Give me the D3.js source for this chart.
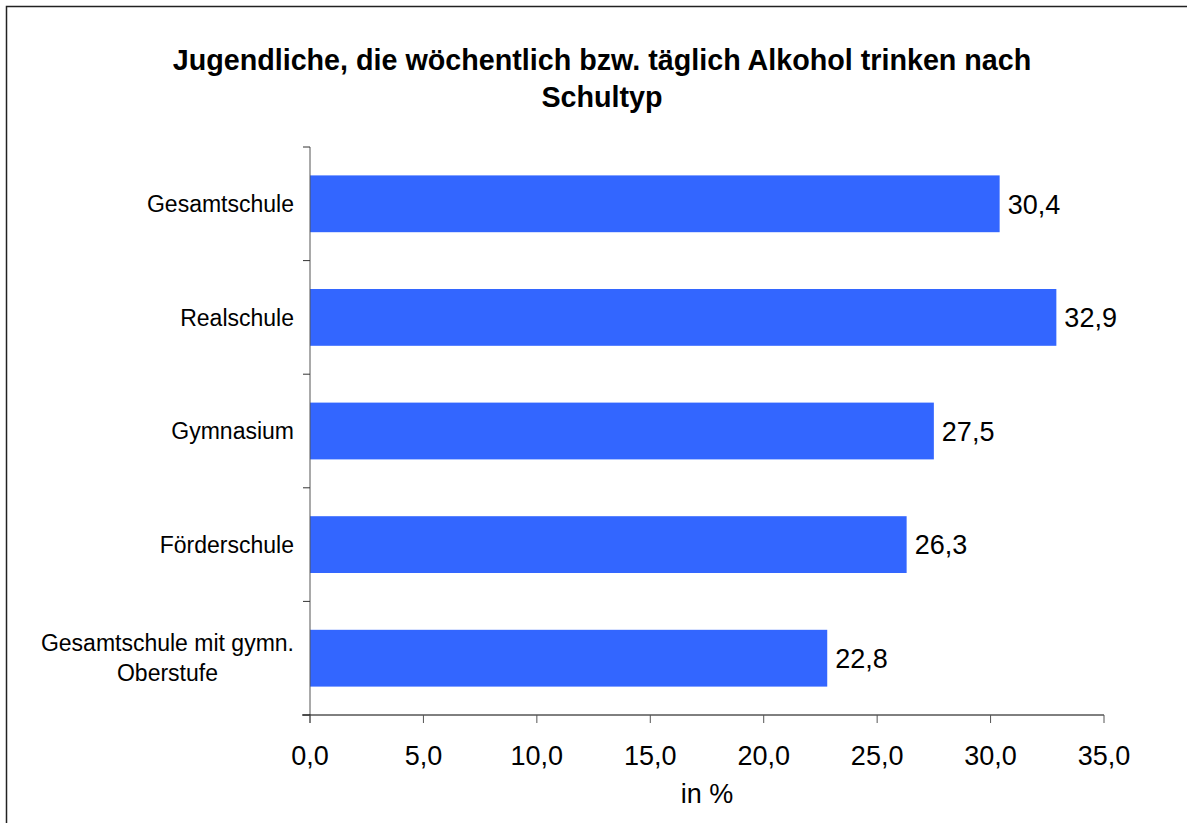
<!DOCTYPE html>
<meta charset="utf-8">
<style>

body {
  margin: 0;
  background: #fff;
}

text {
  font-family: "Liberation Sans", Arial, sans-serif;
  fill: #000;
}

</style>
<body>
<script src="https://d3js.org/d3.v7.min.js"></script>
<script>

var schools = ["Gesamtschule", "Realschule", "Gymnasium", "Förderschule", "Gesamtschule mit gymn.|Oberstufe"],
    values = [30.4, 32.9, 27.5, 26.3, 22.8],
    xTicks = [0, 5, 10, 15, 20, 25, 30, 35],
    titleLines = ["Jugendliche, die wöchentlich bzw. täglich Alkohol trinken nach", "Schultyp"];

var w = 1187,
    h = 823,
    pLeft = 310,
    pRight = 1104,
    pTop = 147,
    pBottom = 715;

var fmt = function(d) { return d.toFixed(1).replace(".", ","); };

var svg = d3.select("body").append("svg")
    .attr("width", w)
    .attr("height", h);

// frame
svg.append("rect")
    .attr("x", 6.5)
    .attr("y", 6.5)
    .attr("width", 1200)
    .attr("height", 1200)
    .style("fill", "none")
    .style("stroke", "#222")
    .style("stroke-width", 1.5);

var x = d3.scaleLinear().domain([0, 35]).range([pLeft, pRight]);
var y = d3.scaleBand().domain(schools).range([pTop, pBottom]).paddingInner(0.5).paddingOuter(0.25);
var yb = d3.scaleBand().domain(schools).range([pTop, pBottom]);

svg.selectAll("text.title")
    .data(titleLines)
  .enter().append("text")
    .attr("class", "title")
    .attr("x", 602)
    .attr("y", function(d, i) { return 70 + i * 37; })
    .attr("text-anchor", "middle")
    .style("font-weight", "bold")
    .style("font-size", "28.7px")
    .text(function(d) { return d; });

svg.selectAll("rect.bar")
    .data(values)
  .enter().append("rect")
    .attr("class", "bar")
    .attr("x", x(0))
    .attr("y", function(d, i) { return y(schools[i]); })
    .attr("width", function(d) { return x(d) - x(0); })
    .attr("height", y.bandwidth())
    .style("fill", "#3366ff");

svg.selectAll("text.value")
    .data(values)
  .enter().append("text")
    .attr("class", "value")
    .attr("x", function(d) { return x(d) + 8; })
    .attr("y", function(d, i) { return y(schools[i]) + y.bandwidth() / 2; })
    .attr("dy", "0.36em")
    .style("font-size", "27px")
    .text(fmt);

// y axis
var ya = svg.append("g");
ya.append("line")
    .attr("x1", pLeft).attr("x2", pLeft)
    .attr("y1", pTop).attr("y2", pBottom + 8)
    .style("stroke", "#555");
ya.selectAll("line.tick")
    .data(schools.map(function(s) { return yb(s); }).concat([pBottom]))
  .enter().append("line")
    .attr("class", "tick")
    .attr("x1", pLeft - 7).attr("x2", pLeft)
    .attr("y1", function(d) { return d; }).attr("y2", function(d) { return d; })
    .style("stroke", "#333");

schools.forEach(function(s) {
  var lines = s.split("|"),
      cy = yb(s) + yb.bandwidth() / 2,
      t = svg.append("text")
        .attr("text-anchor", "middle")
        .style("font-size", "23px");
  lines.forEach(function(l, i) {
    t.append("tspan")
        .attr("y", cy + (i - (lines.length - 1) / 2) * 30)
        .attr("dy", "0.36em")
        .text(l);
  });
  var wd = d3.max(t.selectAll("tspan").nodes(), function(n) { return n.getComputedTextLength(); });
  t.selectAll("tspan").attr("x", 294 - wd / 2);
});

// x axis
var xa = svg.append("g");
xa.append("line")
    .attr("x1", pLeft - 8).attr("x2", pRight)
    .attr("y1", pBottom).attr("y2", pBottom)
    .style("stroke", "#000");
xa.selectAll("line.tick")
    .data(xTicks)
  .enter().append("line")
    .attr("class", "tick")
    .attr("x1", x).attr("x2", x)
    .attr("y1", pBottom).attr("y2", pBottom + 8)
    .style("stroke", "#555");
xa.selectAll("text")
    .data(xTicks)
  .enter().append("text")
    .attr("x", x)
    .attr("y", 765)
    .attr("text-anchor", "middle")
    .style("font-size", "27px")
    .text(fmt);

svg.append("text")
    .attr("x", (pLeft + pRight) / 2)
    .attr("y", 803)
    .attr("text-anchor", "middle")
    .style("font-size", "27px")
    .text("in %");

</script>
